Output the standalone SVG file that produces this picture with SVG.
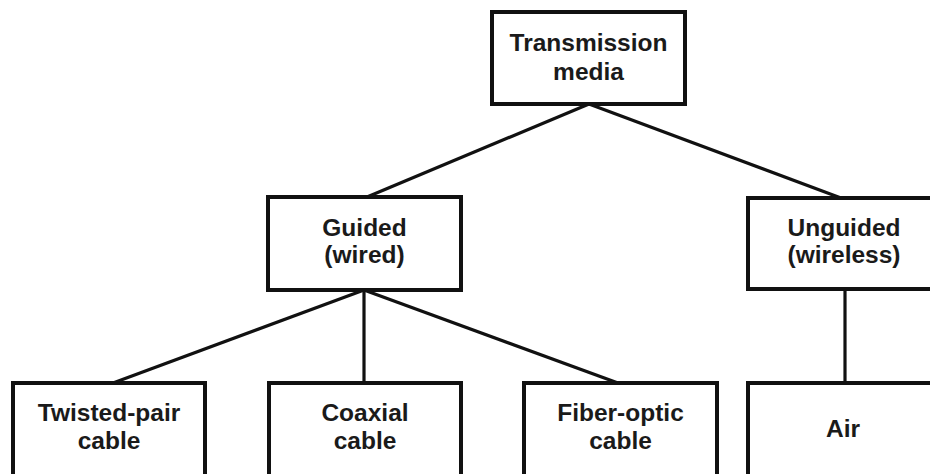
<svg xmlns="http://www.w3.org/2000/svg" width="930" height="474" viewBox="0 0 930 474">
  <style>
    .box { fill: #ffffff; stroke: #111111; stroke-width: 4; }
    .edge { stroke: #111111; stroke-width: 3.2; fill: none; }
    .lbl { font-family: "Liberation Sans", Arial, sans-serif; font-weight: bold; font-size: 24.5px; fill: #1a1a1a; text-anchor: middle; }
  </style>
  <rect width="930" height="474" fill="#ffffff"/>

  <!-- connectors -->
  <g id="connectors">
    <line class="edge" x1="589" y1="104" x2="367" y2="197"/>
    <line class="edge" x1="589" y1="104" x2="841" y2="198"/>
    <line class="edge" x1="364" y1="290" x2="113" y2="383"/>
    <line class="edge" x1="364" y1="290" x2="364" y2="383"/>
    <line class="edge" x1="364" y1="290" x2="618" y2="383"/>
    <line class="edge" x1="845" y1="289" x2="845" y2="383"/>
  </g>

  <!-- root -->
  <g id="transmission-media">
    <rect class="box" x="492" y="12" width="193" height="92"/>
    <text class="lbl" x="588.5" y="51">Transmission</text>
    <text class="lbl" x="588.5" y="80">media</text>
  </g>

  <!-- second level -->
  <g id="guided">
    <rect class="box" x="268" y="197" width="193" height="93"/>
    <text class="lbl" x="364.5" y="236">Guided</text>
    <text class="lbl" x="364.5" y="263">(wired)</text>
  </g>
  <g id="unguided">
    <rect class="box" x="748" y="198" width="200" height="91"/>
    <text class="lbl" x="844" y="236">Unguided</text>
    <text class="lbl" x="844" y="263">(wireless)</text>
  </g>

  <!-- leaves -->
  <g id="twisted-pair">
    <rect class="box" x="13" y="383" width="192" height="110"/>
    <text class="lbl" x="109" y="421">Twisted-pair</text>
    <text class="lbl" x="109" y="449">cable</text>
  </g>
  <g id="coaxial">
    <rect class="box" x="269" y="383" width="192" height="110"/>
    <text class="lbl" x="365" y="421">Coaxial</text>
    <text class="lbl" x="365" y="449">cable</text>
  </g>
  <g id="fiber-optic">
    <rect class="box" x="524" y="383" width="193" height="110"/>
    <text class="lbl" x="620.5" y="421">Fiber-optic</text>
    <text class="lbl" x="620.5" y="449">cable</text>
  </g>
  <g id="air">
    <rect class="box" x="748" y="383" width="200" height="110"/>
    <text class="lbl" x="843" y="437">Air</text>
  </g>
</svg>
